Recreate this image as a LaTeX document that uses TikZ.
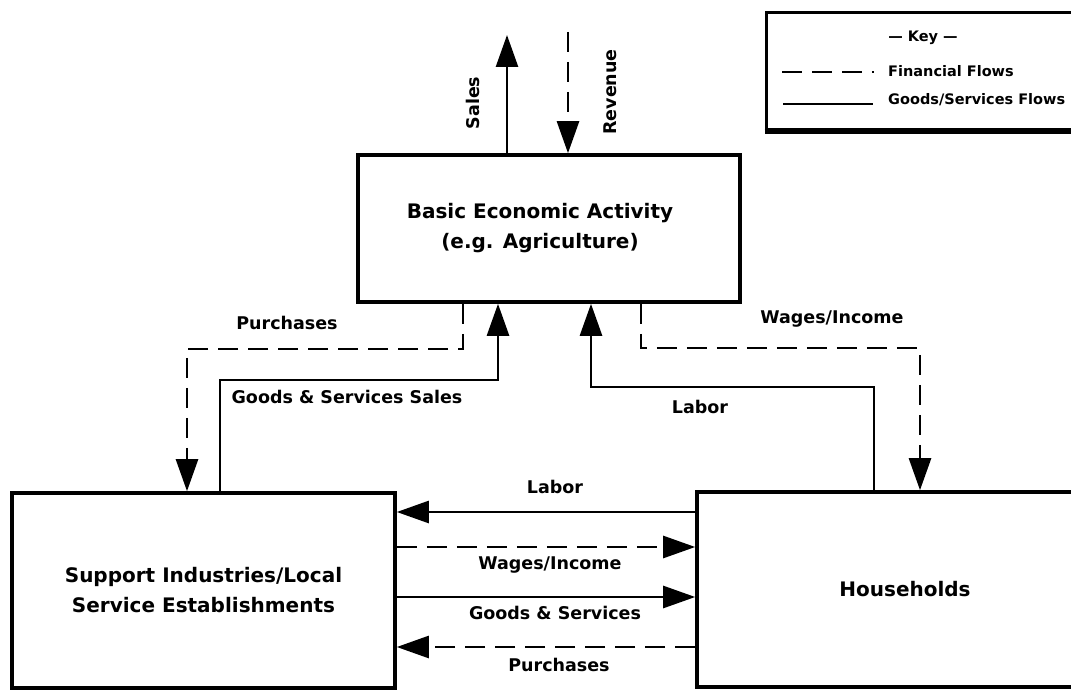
\documentclass[tikz,border=0pt]{standalone}
\usepackage{fontspec}
\setmainfont{DejaVu Sans}
\usetikzlibrary{arrows.meta}
\newcommand\bxfont{\fontsize{20}{30}\selectfont\bfseries}
\newcommand\lbfont{\fontsize{17.5}{21}\selectfont\bfseries}
\newcommand\kyfont{\fontsize{14.5}{17}\selectfont\bfseries}
\begin{document}
\begin{tikzpicture}[x=1pt,y=-1pt,
  box/.style={draw, line width=3.6pt, inner sep=0pt, align=center, font=\bxfont},
  flow/.style={line width=2.6pt, line join=miter},
  money/.style={line width=2.6pt, dash pattern=on 20pt off 10pt, line join=miter},
  endarrow/.style={-{Triangle[length=32pt,width=22pt]}},
  lbl/.style={font=\lbfont, inner sep=0pt},
  klbl/.style={font=\kyfont, inner sep=0pt}]
\useasboundingbox (0,0) rectangle (1071,690);

% boxes
\node[box, minimum width=382pt, minimum height=147pt] (basic) at (549,228.5) {Basic Economic Activity\hspace*{18pt}\\(e.g. Agriculture)\hspace*{18pt}};
\node[box, minimum width=383pt, minimum height=195pt] (sup) at (203.5,590.5) {Support Industries/Local\\Service Establishments};
\node[box, minimum width=416pt, minimum height=195pt] (hh) at (905,589.5) {Households};

% key
\node[draw, line width=3pt, minimum width=320pt, minimum height=117pt, inner sep=0pt] (key) at (926,71.5) {};
\draw[line width=5pt] (key.south west) -- (key.south east);
\node[klbl, anchor=base] (keytitle) at (923,42) {— Key —};
\node[klbl, anchor=base west] (kfin) at (888,77) {Financial Flows};
\node[klbl, anchor=base west] (kgood) at (888,104.5) {Goods/Services Flows};
\coordinate (kd1) at (782,72);
\coordinate (kd2) at (874,72);
\coordinate (ks1) at (783,104);
\coordinate (ks2) at (873,104);
\draw[money] (kd1) -- (kd2);
\draw[flow] (ks1) -- (ks2);

% top in/out of basic activity
\coordinate (salesTop) at (507,35);
\coordinate (revTop) at (568,32);
\draw[flow, endarrow] (basic.north -| salesTop) -- (salesTop);
\draw[money, endarrow] (revTop) -- (basic.north -| revTop);
\node[lbl, rotate=90] (lsales) at (473,103) {Sales};
\node[lbl, rotate=90] (lrev) at (610,92) {Revenue};

% purchases (support -> basic), financial
\coordinate (p1) at (463,349);
\coordinate (p2) at (187,349);
\draw[money, endarrow] (basic.south -| p1) -- (p1) -- (p2) -- (sup.north -| p2);
\node[lbl, anchor=base] (lpur1) at (287,329.5) {Purchases};

% goods & services sales (support -> basic)
\coordinate (g1) at (220,380);
\coordinate (g2) at (498,380);
\draw[flow, endarrow] (sup.north -| g1) -- (g1) -- (g2) -- (basic.south -| g2);
\node[lbl, anchor=base] (lgss) at (347,403.5) {Goods \& Services Sales};

% labor (households -> basic)
\coordinate (l1) at (874,387);
\coordinate (l2) at (591,387);
\draw[flow, endarrow] (hh.north -| l1) -- (l1) -- (l2) -- (basic.south -| l2);
\node[lbl, anchor=base] (llab1) at (700,413.5) {Labor};

% wages/income (basic -> households)
\coordinate (w1) at (641,348);
\coordinate (w2) at (920,348);
\draw[money, endarrow] (basic.south -| w1) -- (w1) -- (w2) -- (hh.north -| w2);
\node[lbl, anchor=base] (lwag1) at (832,323.5) {Wages/Income};

% flows between support and households
\coordinate (b1) at (0,512);
\coordinate (b2) at (0,547);
\coordinate (b3) at (0,597);
\coordinate (b4) at (0,647);
\draw[flow, endarrow] (hh.west |- b1) -- (sup.east |- b1);
\draw[money, endarrow] (sup.east |- b2) -- (hh.west |- b2);
\draw[flow, endarrow] (sup.east |- b3) -- (hh.west |- b3);
\draw[money, endarrow] (hh.west |- b4) -- (sup.east |- b4);
\node[lbl, anchor=base] (llab2) at (555,493.5) {Labor};
\node[lbl, anchor=base] (lwag2) at (550,569.5) {Wages/Income};
\node[lbl, anchor=base] (lgs) at (555,619.5) {Goods \& Services};
\node[lbl, anchor=base] (lpur2) at (559,671.5) {Purchases};
\end{tikzpicture}
\end{document}
